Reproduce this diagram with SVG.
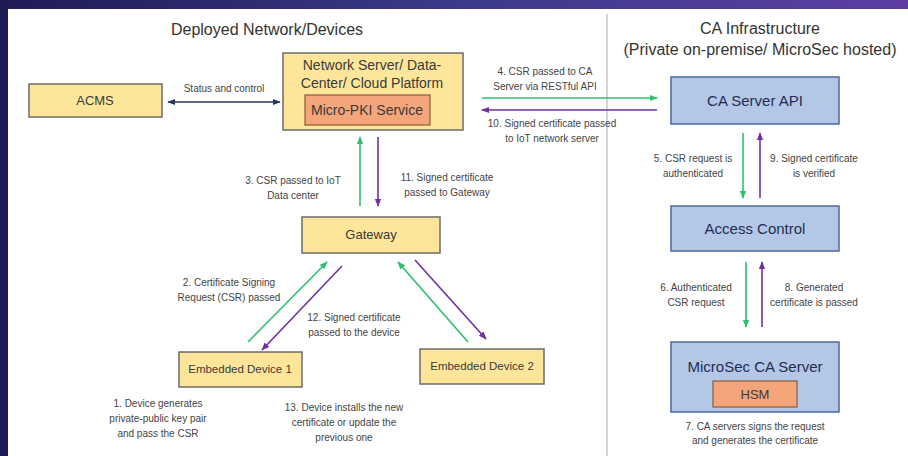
<svg xmlns="http://www.w3.org/2000/svg" width="908" height="456" viewBox="0 0 908 456">
<defs>
<linearGradient id="band" x1="0" y1="0" x2="1" y2="0">
<stop offset="0" stop-color="#1f1b55"/>
<stop offset="0.5" stop-color="#3a3a8a"/>
<stop offset="1" stop-color="#5e3ea2"/>
</linearGradient>
<marker id="ag" viewBox="0 0 10 10" refX="9" refY="5" markerWidth="5" markerHeight="5" orient="auto-start-reverse"><path d="M0,1 L10,5 L0,9 z" fill="#2fbf71"/></marker>
<marker id="ap" viewBox="0 0 10 10" refX="9" refY="5" markerWidth="5" markerHeight="5" orient="auto-start-reverse"><path d="M0,1 L10,5 L0,9 z" fill="#7030a0"/></marker>
<marker id="an" viewBox="0 0 10 10" refX="9" refY="5" markerWidth="5" markerHeight="5" orient="auto-start-reverse"><path d="M0,1 L10,5 L0,9 z" fill="#1f3864"/></marker>
</defs>
<style>
text{font-family:"Liberation Sans",Arial,sans-serif;}
.y{fill:#fde699;stroke:#6b6b6b;stroke-width:1.5;}
.o{fill:#f4a57a;stroke:#8a5a3a;stroke-width:1.2;}
.b{fill:#b4c7e7;stroke:#4a6aa0;stroke-width:1.5;}
.h{font-size:16px;fill:#333;text-anchor:middle;}
.t{font-size:13px;fill:#3a3a3a;text-anchor:middle;}
.tn{font-size:14px;fill:#3a3a3a;text-anchor:middle;}
.te{font-size:11.5px;fill:#3a3a3a;text-anchor:middle;}
.tb{font-size:15px;fill:#1f2d50;text-anchor:middle;}
.l{font-size:10px;fill:#444;text-anchor:middle;}
.g{stroke:#2fbf71;stroke-width:1.6;fill:none;marker-end:url(#ag);}
.p{stroke:#7030a0;stroke-width:1.6;fill:none;marker-end:url(#ap);}
</style>
<rect x="0" y="0" width="908" height="456" fill="#ffffff"/>
<rect x="0" y="0" width="908" height="9" fill="url(#band)"/>
<rect x="0" y="0" width="8" height="456" fill="#1f1b55"/>
<line x1="607" y1="14" x2="607" y2="456" stroke="#c8c8c8" stroke-width="1.5"/>
<text class="h" x="267" y="35">Deployed Network/Devices</text>
<text class="h" x="760" y="34">CA Infrastructure</text>
<text class="h" x="760" y="55">(Private on-premise/ MicroSec hosted)</text>

<g id="acms"><rect class="y" x="29" y="84" width="133" height="33"/><text class="t" x="95" y="105">ACMS</text></g>
<g id="netserver"><rect class="y" x="283" y="53" width="180" height="77"/><text class="tn" x="372" y="70">Network Server/ Data-</text><text class="tn" x="372" y="88">Center/ Cloud Platform</text>
<g id="micropki"><rect class="o" x="305" y="95" width="125" height="30"/><text class="tn" x="367" y="115">Micro-PKI Service</text></g></g>
<g id="gateway"><rect class="y" x="302" y="217" width="138" height="36"/><text class="t" x="371" y="239">Gateway</text></g>
<g id="ed1"><rect class="y" x="179" y="352" width="123" height="35"/><text class="te" x="240" y="373">Embedded Device 1</text></g>
<g id="ed2"><rect class="y" x="420" y="349" width="124" height="35"/><text class="te" x="482" y="370">Embedded Device 2</text></g>
<g id="caapi"><rect class="b" x="671" y="77" width="168" height="47"/><text class="tb" x="755" y="106">CA Server API</text></g>
<g id="access"><rect class="b" x="671" y="206" width="168" height="45"/><text class="tb" x="755" y="234">Access Control</text></g>
<g id="microsec"><rect class="b" x="671" y="342" width="168" height="70"/><text class="tb" x="755" y="372">MicroSec CA Server</text>
<g id="hsm"><rect class="o" x="713" y="381" width="84" height="26"/><text class="t" x="755" y="399">HSM</text></g></g>

<g id="connectors">
<line x1="168" y1="102" x2="280" y2="102" stroke="#1f3864" stroke-width="1.6" marker-start="url(#an)" marker-end="url(#an)"/>
<line class="g" x1="360" y1="206" x2="360" y2="137"/>
<line class="p" x1="378" y1="137" x2="378" y2="206"/>
<line class="g" x1="248" y1="342" x2="327" y2="262"/>
<line class="p" x1="342" y1="266" x2="262" y2="350"/>
<line class="g" x1="468" y1="342" x2="398" y2="262"/>
<line class="p" x1="415" y1="260" x2="486" y2="339"/>
<line class="g" x1="482" y1="98" x2="657" y2="98"/>
<line class="p" x1="657" y1="110" x2="482" y2="110"/>
<line class="g" x1="743" y1="133" x2="743" y2="198"/>
<line class="p" x1="760" y1="198" x2="760" y2="133"/>
<line class="g" x1="746" y1="262" x2="746" y2="327"/>
<line class="p" x1="762" y1="327" x2="762" y2="262"/>
</g>

<g id="labels">
<text class="l" x="224" y="92">Status and control</text>
<text class="l" x="293" y="184">3. CSR passed to IoT</text>
<text class="l" x="293" y="199">Data center</text>
<text class="l" x="447" y="181">11. Signed certificate</text>
<text class="l" x="447" y="196">passed to Gateway</text>
<text class="l" x="229" y="286">2. Certificate Signing</text>
<text class="l" x="229" y="301">Request (CSR) passed</text>
<text class="l" x="354" y="321">12. Signed certificate</text>
<text class="l" x="354" y="336">passed to the device</text>
<text class="l" x="158" y="407">1. Device generates</text>
<text class="l" x="158" y="422">private-public key pair</text>
<text class="l" x="158" y="437">and pass the CSR</text>
<text class="l" x="344" y="411">13. Device installs the new</text>
<text class="l" x="344" y="426">certificate or update the</text>
<text class="l" x="344" y="441">previous one</text>
<text class="l" x="545" y="75">4. CSR passed to CA</text>
<text class="l" x="545" y="90">Server via RESTful API</text>
<text class="l" x="552" y="127">10. Signed certificate passed</text>
<text class="l" x="552" y="142">to IoT network server</text>
<text class="l" x="693" y="162">5. CSR request is</text>
<text class="l" x="693" y="177">authenticated</text>
<text class="l" x="814" y="162">9. Signed certificate</text>
<text class="l" x="814" y="177">is verified</text>
<text class="l" x="696" y="291">6. Authenticated</text>
<text class="l" x="696" y="306">CSR request</text>
<text class="l" x="814" y="291">8. Generated</text>
<text class="l" x="814" y="306">certificate is passed</text>
<text class="l" x="755" y="430">7. CA servers signs the request</text>
<text class="l" x="755" y="444">and generates the certificate</text>
</g>
</svg>
